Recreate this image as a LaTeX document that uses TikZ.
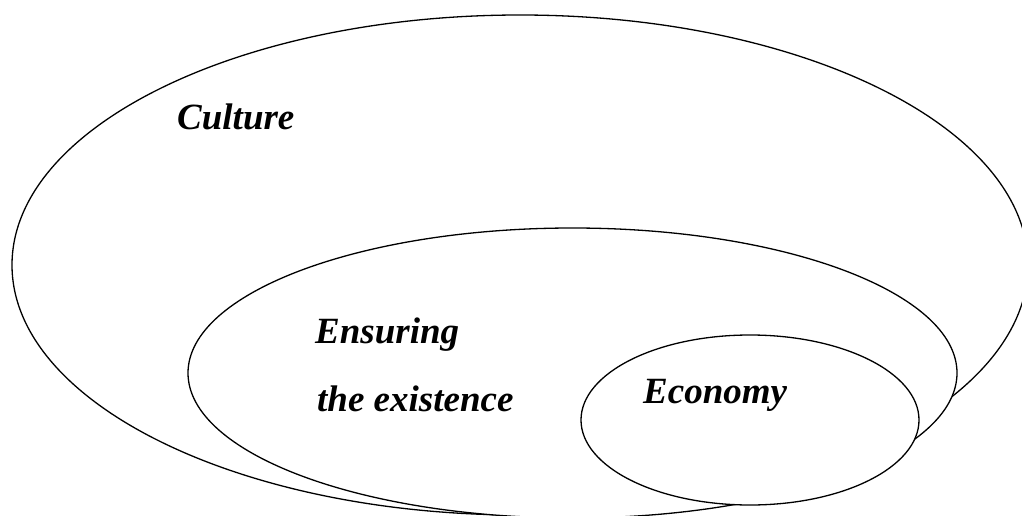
\documentclass[tikz,border=0pt]{standalone}
\usepackage{fontspec}
\setmainfont{Liberation Serif}
\usetikzlibrary{shapes.geometric}

\begin{document}
\begin{tikzpicture}[x=1pt,y=-1pt,
	sphere/.style={draw,ellipse,fill=white,line width=1.3pt,inner sep=0pt},
	word/.style={anchor=base west,inner sep=0pt,font=\fontsize{37}{40}\selectfont\bfseries\itshape}]
\useasboundingbox (0,0) rectangle (1022,516);
\clip (0,0) rectangle (1022,516);

%spheres
\node[sphere,minimum width=1016pt,minimum height=500pt] (culture) at (520,265) {};
\node[sphere,minimum width=769pt,minimum height=290pt] (existence) at (572.5,373) {};
\node[sphere,minimum width=338pt,minimum height=170pt] (economy) at (750,420) {};

%texts
\node[word] (culturetext) at (177,129) {Culture};
\node[word] (ensuring) at (315,343) {Ensuring};
\node[word] (existencetext) at (317,411) {the existence};
\node[word] (economytext) at (643,403) {Economy};
\end{tikzpicture}
\end{document}
